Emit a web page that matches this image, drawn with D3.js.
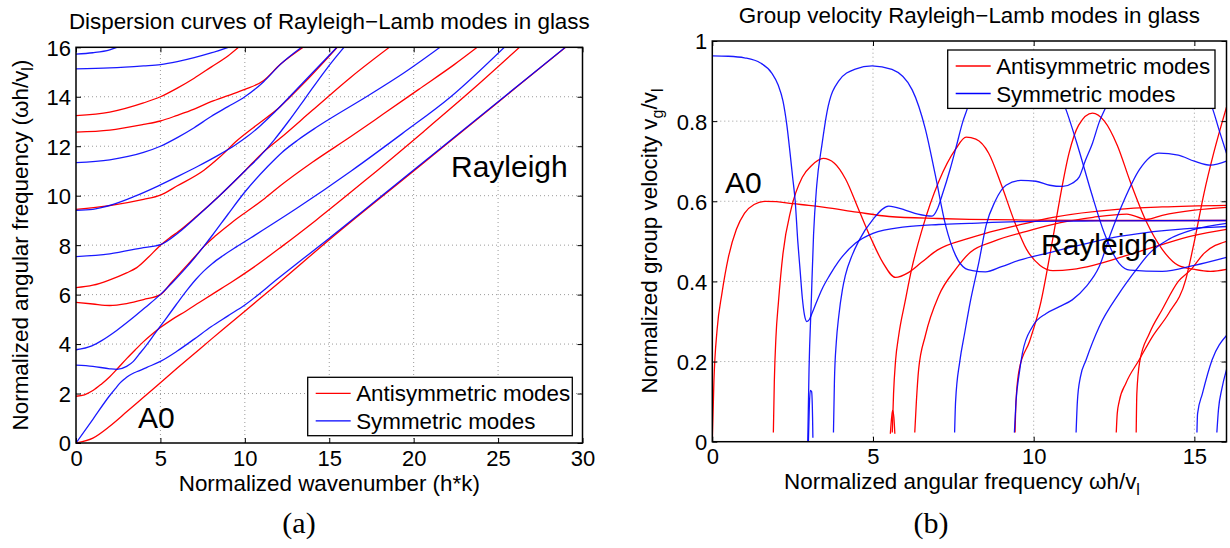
<!DOCTYPE html>
<html>
<head>
<meta charset="utf-8">
<script src="https://cdn.jsdelivr.net/npm/d3@7"></script>
<style>
  html, body { margin: 0; padding: 0; background: #fff; }
  svg { display: block; font-family: "Liberation Sans", Arial, Helvetica, sans-serif; }
  .tick text { font-size: 22px; fill: #000; }
</style>
</head>
<body>
<svg id="chart" width="1230" height="548"></svg>
<script>
// ---------- Panel (a): dispersion curves, wavenumber kh vs frequency wh/v_l ----------
const ticksA_x = [0, 5, 10, 15, 20, 25, 30];
const ticksA_y = [0, 2, 4, 6, 8, 10, 12, 14, 16];

// Antisymmetric modes [kh, wh/v_l]
const dispA0 = [[0,0],[1,0.2],[2,0.68],[3,1.26],[4,1.85],[5,2.44],[6,3.03],[7,3.61],[8,4.19],[9,4.76],[10,5.33],[12,6.47],[15,8.22],[20,11.0],[25,13.78],[29,16.0],[29.2,16.11]];
const dispA1 = [[0,1.89],[0.5,1.95],[1,2.12],[1.5,2.38],[2,2.68],[2.42,2.98],[3,3.41],[3.5,3.76],[4,4.1],[4.5,4.4],[5,4.67],[5.7,5.0],[6.5,5.33],[7.3,5.68],[8.2,6.07],[9.2,6.5],[10.3,7.0],[12.2,7.95],[14.2,9.0],[17.1,10.6],[20.6,12.6],[23.5,14.3],[26.3,16.02]];
const dispA2 = [[0,5.69],[1,5.62],[2,5.56],[3,5.64],[4,5.8],[5,6.0],[5.6,6.45],[6.3,6.98],[7.0,7.5],[7.58,7.95],[8.3,8.4],[9.2,8.9],[10.2,9.4],[11.2,9.9],[12.1,10.4],[14,11.35],[16.3,12.4],[18.2,13.3],[20.3,14.3],[22.4,15.3],[23.8,16.02]];
const dispA3 = [[0,6.28],[1,6.38],[2,6.6],[3,6.88],[3.6,7.09],[4.3,7.52],[5,8.0],[5.5,8.27],[6.1,8.57],[7.13,9.16],[8.5,10.0],[10,11.0],[11,11.7],[12.09,12.32],[14,13.45],[16.3,14.8],[18.6,16.02]];
const dispA4 = [[0,9.45],[2,9.6],[4,9.85],[5,10.02],[6,10.4],[7.58,11.03],[8.5,11.55],[9.56,12.24],[10.5,12.75],[12.09,13.6],[13.5,14.55],[15.5,16.02]];
const dispA5 = [[0,12.57],[2,12.65],[4,12.88],[5,13.02],[6,13.25],[7,13.5],[8,13.8],[9,14.05],[10,14.3],[11.1,14.65],[12.09,15.3],[13.5,16.02]];
const dispA6 = [[0,13.24],[2,13.38],[4,13.75],[5,14.0],[6,14.35],[7,14.75],[8,15.2],[9,15.65],[9.66,16.02]];

// Symmetric modes [kh, wh/v_l]
const dispS0 = [[0,0],[1,0.96],[2,1.92],[2.33,2.2],[2.6,2.42],[2.86,2.58],[3.15,2.73],[3.45,2.84],[3.73,2.92],[4.2,3.06],[5,3.3],[6,3.72],[7,4.2],[8,4.7],[9,5.14],[10,5.58],[12,6.67],[15,8.28],[20,11.04],[25,13.8],[29,16.01],[29.2,16.12]];
const dispS1 = [[0,3.15],[1,3.1],[2,3.0],[2.42,2.98],[3,3.1],[3.4,3.3],[3.72,3.57],[4.14,3.93],[4.7,4.45],[5.3,5.0],[5.94,5.6],[6.6,6.2],[7.12,6.63],[7.55,6.94],[8.08,7.26],[8.7,7.57],[9.5,7.93],[10.36,8.3],[13.1,9.5],[16.3,11],[19.3,12.5],[22.2,14],[25.4,16.02]];
const dispS2 = [[0,3.77],[0.94,3.93],[1.52,4.14],[2.41,4.55],[3.26,5.0],[4.12,5.49],[4.99,6.0],[5.7,6.48],[6.46,7.04],[7.0,7.47],[7.58,7.96],[8.1,8.42],[9,9.25],[10,10.15],[11.38,11.2],[12.2,11.75],[13.14,12.25],[14.1,12.7],[14.9,13.05],[17.2,14.0],[19.5,15.0],[21.6,16.02]];
const dispS3 = [[0,7.54],[2,7.65],[4,7.9],[5,8.02],[6.1,8.52],[7.13,9.14],[8.5,10.0],[10,11.0],[10.9,11.6],[11.73,12.25],[12.58,13.0],[13.64,14.0],[14.7,15.0],[15.33,15.55],[15.9,16.02]];
const dispS4 = [[0,9.41],[1,9.45],[2.2,9.65],[3.42,9.96],[4.85,10.39],[6.09,10.8],[7.25,11.2],[8.41,11.63],[9.41,12.04],[10.16,12.4],[10.87,12.8],[11.65,13.3],[12.51,13.9],[14.05,15],[15.48,16.02]];
const dispS5 = [[0,11.34],[2,11.45],[4,11.75],[5,12.0],[6,12.35],[7,12.75],[8,13.2],[9,13.6],[10,14.0],[11.1,14.6],[12.09,15.3],[13.4,16.02]];
const dispS6 = [[0,15.13],[2,15.17],[4,15.25],[5,15.3],[6,15.42],[7,15.58],[8,15.77],[9.1,16.02]];
const dispS7 = [[0,15.72],[1,15.78],[2,15.9],[2.5,16.02]];

// ---------- Panel (b): group velocity, wh/v_l vs v_g/v_l ----------
const ticksB_x = [0, 5, 10, 15];
const ticksB_y = [0, 0.2, 0.4, 0.6, 0.8, 1];
const ticksB_yText = ["0", "0.2", "0.4", "0.6", "0.8", "1"];

// Antisymmetric modes [wh/v_l, v_g/v_l]
const grpA0 = [[0,0],[0.05,0.15],[0.15,0.28],[0.3,0.37],[0.5,0.46],[0.75,0.53],[1.0,0.57],[1.3,0.592],[1.65,0.6],[2.0,0.599],[2.5,0.594],[3.0,0.59],[3.5,0.585],[4.5,0.573],[5.5,0.562],[7,0.557],[8,0.555],[10,0.553],[12,0.552],[16,0.552]];
const grpA1 = [[1.9,0.023],[1.93,0.15],[1.98,0.26],[2.06,0.35],[2.2,0.47],[2.45,0.58],[2.8,0.66],[3.1,0.69],[3.45,0.707],[3.8,0.695],[4.15,0.655],[4.55,0.58],[4.95,0.505],[5.3,0.448],[5.7,0.41],[6.1,0.422],[6.5,0.447],[7.0,0.478],[8.0,0.508],[8.5,0.52],[9.5,0.54],[10.6,0.56],[12.6,0.58],[14,0.586],[16,0.59]];
const grpA2spike = [[5.54,0.02],[5.58,0.06],[5.61,0.078],[5.65,0.06],[5.68,0.02]];
const grpA2 = [[5.6,0.023],[5.64,0.12],[5.7,0.2],[5.8,0.265],[6.0,0.35],[6.2,0.43],[6.53,0.53],[7.05,0.65],[7.57,0.73],[7.9,0.76],[8.2,0.755],[8.6,0.72],[9.0,0.64],[9.4,0.55],[9.78,0.48],[10.2,0.44],[10.6,0.427],[11.2,0.43],[11.85,0.44],[12.9,0.465],[13.9,0.49],[15,0.515],[16,0.53]];
const grpA3 = [[6.3,0.023],[6.35,0.1],[6.42,0.18],[6.63,0.265],[7.05,0.365],[7.57,0.43],[8.03,0.473],[8.75,0.5],[9.78,0.525],[10.8,0.546],[11.85,0.56],[12.9,0.568],[13.5,0.555],[14,0.565],[15,0.578],[16,0.585]];
const grpA4 = [[9.42,0.023],[9.45,0.1],[9.55,0.18],[9.87,0.25],[10.2,0.34],[10.58,0.5],[10.8,0.6],[11.1,0.72],[11.4,0.79],[11.83,0.82],[12.2,0.8],[12.6,0.74],[13,0.65],[13.5,0.55],[14,0.48],[14.5,0.44],[15,0.43],[15.5,0.425],[16,0.43]];
const grpA5 = [[12.57,0.023],[12.6,0.07],[12.66,0.1],[12.87,0.146],[13.28,0.204],[13.7,0.263],[14.2,0.32],[14.73,0.404],[15.0,0.5],[15.3,0.62],[15.6,0.72],[16,0.835]];
const grpA6 = [[13.19,0.023],[13.21,0.12],[13.3,0.2],[13.6,0.27],[14.0,0.33],[14.5,0.4],[14.9,0.43],[15.3,0.47],[16,0.5]];

// Symmetric modes [wh/v_l, v_g/v_l]
const grpS0 = [[0,0.963],[0.5,0.962],[1.0,0.958],[1.5,0.945],[1.85,0.92],[2.05,0.89],[2.2,0.85],[2.32,0.79],[2.42,0.72],[2.5,0.66],[2.58,0.6],[2.66,0.5],[2.73,0.43],[2.8,0.36],[2.87,0.315],[2.94,0.30],[3.02,0.305],[3.1,0.32],[3.25,0.35],[3.41,0.38],[3.65,0.415],[3.93,0.45],[4.45,0.495],[5.0,0.52],[6.0,0.536],[7.05,0.542],[8.0,0.545],[10,0.55],[12,0.551],[16,0.552]];
const grpS1spike = [[2.99,0],[3.02,0.09],[3.05,0.128],[3.09,0.125],[3.12,0.06],[3.13,0.01]];
const grpS1 = [[2.97,0],[3.01,0.18],[3.08,0.35],[3.15,0.515],[3.25,0.64],[3.41,0.74],[3.57,0.823],[3.93,0.9],[4.45,0.93],[4.97,0.938],[5.59,0.929],[6.22,0.878],[6.63,0.78],[6.94,0.665],[7.26,0.54],[7.57,0.465],[7.88,0.432],[8.1,0.427],[8.5,0.424],[9.0,0.437],[9.56,0.453],[10.5,0.472],[11.5,0.492],[12.5,0.51],[13.5,0.522],[14.5,0.53],[15.5,0.535],[16,0.537]];
const grpS2 = [[3.77,0.023],[3.8,0.15],[3.86,0.25],[3.93,0.31],[4.05,0.38],[4.14,0.415],[4.35,0.465],[4.55,0.5],[5.0,0.555],[5.49,0.588],[6.0,0.578],[6.4,0.568],[6.84,0.563],[7.0,0.58],[7.15,0.615],[7.4,0.68],[7.57,0.73],[7.8,0.8],[7.93,0.83],[8.1,0.875],[8.3,0.91],[8.6,0.94],[9.2,0.955],[10,0.955],[10.5,0.92],[10.8,0.87],[11.0,0.83],[11.4,0.73],[11.8,0.62],[12.2,0.52],[12.66,0.445],[13.0,0.428],[14,0.425],[15,0.44],[16,0.46]];
const grpS3 = [[7.54,0.023],[7.57,0.1],[7.7,0.2],[7.85,0.27],[8.03,0.35],[8.3,0.45],[8.52,0.54],[8.8,0.6],[9.14,0.64],[9.6,0.652],[10.07,0.65],[10.5,0.64],[10.9,0.637],[11.2,0.645],[11.42,0.661],[11.6,0.7],[11.83,0.745],[12.05,0.8],[12.25,0.836],[12.5,0.89],[13,0.93],[14,0.95],[15,0.915],[15.55,0.835],[15.8,0.77],[16,0.72]];
const grpS4 = [[9.4,0.023],[9.45,0.1],[9.55,0.17],[9.65,0.221],[9.96,0.287],[10.39,0.32],[10.8,0.337],[11.2,0.354],[11.63,0.387],[12.04,0.437],[12.4,0.52],[12.8,0.6],[13.3,0.68],[13.9,0.72],[14.5,0.715],[15.0,0.7],[15.5,0.69],[16,0.7]];
const grpS5 = [[11.32,0.023],[11.36,0.1],[11.45,0.16],[11.63,0.204],[12.04,0.287],[12.66,0.37],[13.18,0.428],[13.6,0.47],[14.2,0.505],[15,0.53],[16,0.545]];
const grpS6 = [[15.08,0.023],[15.1,0.07],[15.25,0.12],[15.55,0.204],[16,0.265]];
const grpS7 = [[15.7,0.023],[15.75,0.08],[15.85,0.13],[16,0.18]];

const legendLabels = ["Antisymmetric modes", "Symmetric modes"];
const RED = "#ff0000", BLUE = "#0000ff";

const svg = d3.select("#chart");

function drawPanel(cfg) {
  const { x, y, xTicks, yTicks, yFmt, antisym, sym, clipId, xPad } = cfg;
  const [x0, x1] = x.range();
  const [y0, y1] = y.range();
  const g = svg.append("g");

  g.append("clipPath").attr("id", clipId)
    .append("rect").attr("x", x0).attr("y", y1).attr("width", x1 - x0).attr("height", y0 - y1);

  // dotted grid
  const grid = g.append("g").attr("stroke", "#9a9a9a").attr("stroke-width", 1).attr("stroke-dasharray", "1,3");
  xTicks.slice(1, -1).forEach(t => grid.append("line")
    .attr("x1", x(t)).attr("x2", x(t)).attr("y1", y0).attr("y2", y1));
  yTicks.slice(1, -1).forEach(t => grid.append("line")
    .attr("x1", x0).attr("x2", x1).attr("y1", y(t)).attr("y2", y(t)));

  // curves
  const line = d3.line().x(d => x(d[0])).y(d => y(d[1])).curve(d3.curveMonotoneX);
  const cg = g.append("g").attr("clip-path", `url(#${clipId})`).attr("fill", "none").attr("stroke-width", 1.3);
  antisym.forEach(s => cg.append("path").attr("d", line(s)).attr("stroke", RED));
  sym.forEach(s => cg.append("path").attr("d", line(s)).attr("stroke", BLUE).attr("stroke-opacity", 0.9));

  // axes with inward ticks on all four sides
  const bottom = g.append("g").attr("transform", `translate(0,${y0})`)
    .call(d3.axisBottom(x).tickValues(xTicks).tickSizeInner(-5).tickSizeOuter(0).tickPadding(xPad).tickFormat(d3.format("d")));
  const top = g.append("g").attr("transform", `translate(0,${y1})`)
    .call(d3.axisTop(x).tickValues(xTicks).tickSizeInner(-5).tickSizeOuter(0).tickFormat(""));
  const left = g.append("g").attr("transform", `translate(${x0},0)`)
    .call(d3.axisLeft(y).tickValues(yTicks).tickSizeInner(-5).tickSizeOuter(0).tickPadding(5).tickFormat(yFmt));
  const right = g.append("g").attr("transform", `translate(${x1},0)`)
    .call(d3.axisRight(y).tickValues(yTicks).tickSizeInner(-5).tickSizeOuter(0).tickFormat(""));
  [bottom, top, left, right].forEach(a => {
    a.select(".domain").remove();
    a.selectAll(".tick line").attr("stroke", "#000").attr("stroke-width", 1);
    a.selectAll("text").attr("font-family", "Liberation Sans, Arial, sans-serif");
  });
  left.selectAll("text").attr("dy", "0.36em");

  g.append("rect").attr("x", x0).attr("y", y1).attr("width", x1 - x0).attr("height", y0 - y1)
    .attr("fill", "none").attr("stroke", "#000").attr("stroke-width", 1.5);
  return g;
}

function drawLegend(g, lx, ly, lw, lh) {
  g.append("rect").attr("x", lx).attr("y", ly).attr("width", lw).attr("height", lh)
    .attr("fill", "#fff").attr("stroke", "#000").attr("stroke-width", 1.3);
  [RED, BLUE].forEach((c, i) => {
    const yy = ly + 16 + i * 27.5;
    g.append("line").attr("x1", lx + 8).attr("x2", lx + 43).attr("y1", yy).attr("y2", yy)
      .attr("stroke", c).attr("stroke-width", 1.3);
    g.append("text").attr("x", lx + 48.5).attr("y", yy + 8).attr("font-size", 22.4)
      .attr("fill", "#000").text(legendLabels[i]);
  });
}

// ----- panel (a) -----
const xA = d3.scaleLinear().domain([0, 30]).range([76, 582.5]);
const yA = d3.scaleLinear().domain([0, 16]).range([443, 47.3]);
const gA = drawPanel({
  x: xA, y: yA, xTicks: ticksA_x, yTicks: ticksA_y, yFmt: d3.format("d"), clipId: "clipA", xPad: 7.5,
  antisym: [dispA0, dispA1, dispA2, dispA3, dispA4, dispA5, dispA6],
  sym: [dispS0, dispS1, dispS2, dispS3, dispS4, dispS5, dispS6, dispS7]
});
drawLegend(gA, 307.7, 377.3, 264.6, 58.4);
gA.append("text").attr("x", 329.3).attr("y", 29).attr("text-anchor", "middle").attr("font-size", 22.4)
  .text("Dispersion curves of Rayleigh\u2212Lamb modes in glass");
gA.append("text").attr("x", 329.3).attr("y", 491).attr("text-anchor", "middle").attr("font-size", 22.4)
  .text("Normalized wavenumber (h*k)");
const ylA = gA.append("text").attr("transform", "translate(28,245) rotate(-90)").attr("text-anchor", "middle").attr("font-size", 22.4);
ylA.append("tspan").text("Normalized angular frequency (\u03c9h/v");
ylA.append("tspan").attr("font-size", 16).attr("dy", 5).text("l");
ylA.append("tspan").attr("dy", -5).text(")");
gA.append("text").attr("x", 138).attr("y", 428).attr("font-size", 30).text("A0");
gA.append("text").attr("x", 451).attr("y", 177).attr("font-size", 30).text("Rayleigh");
gA.append("text").attr("x", 299).attr("y", 533).attr("text-anchor", "middle").attr("font-size", 30)
  .attr("font-family", "Liberation Serif, DejaVu Serif, serif").text("(a)");

// ----- panel (b) -----
const xB = d3.scaleLinear().domain([0, 16]).range([712.3, 1226.5]);
const yB = d3.scaleLinear().domain([0, 1]).range([441.7, 41]);
const gB = drawPanel({
  x: xB, y: yB, xTicks: ticksB_x.concat([16]), yTicks: ticksB_y,
  yFmt: (d, i) => ticksB_yText[i], clipId: "clipB", xPad: 6.5,
  antisym: [grpA0, grpA1, grpA2spike, grpA2, grpA3, grpA4, grpA5, grpA6],
  sym: [grpS0, grpS1spike, grpS1, grpS2, grpS3, grpS4, grpS5, grpS6, grpS7]
});
// the frame edge at 16 carries no tick
gB.selectAll(".tick").filter(d => d === 16).remove();
drawLegend(gB, 947.7, 50, 267.3, 58.4);
gB.append("text").attr("x", 969.4).attr("y", 23).attr("text-anchor", "middle").attr("font-size", 22.4)
  .text("Group velocity Rayleigh\u2212Lamb modes in glass");
const xlB = gB.append("text").attr("x", 962).attr("y", 489).attr("text-anchor", "middle").attr("font-size", 22.4);
xlB.append("tspan").text("Normalized angular frequency \u03c9h/v");
xlB.append("tspan").attr("font-size", 16).attr("dy", 6).text("l");
const ylB = gB.append("text").attr("transform", "translate(657,241) rotate(-90)").attr("text-anchor", "middle").attr("font-size", 22.4);
ylB.append("tspan").text("Normalized group velocity v");
ylB.append("tspan").attr("font-size", 16).attr("dy", 6).text("g");
ylB.append("tspan").attr("dy", -6).text("/v");
ylB.append("tspan").attr("font-size", 16).attr("dy", 6).text("l");
gB.append("text").attr("x", 725).attr("y", 193).attr("font-size", 30).text("A0");
gB.append("text").attr("x", 1041).attr("y", 255).attr("font-size", 30).text("Rayleigh");
gB.append("text").attr("x", 931).attr("y", 533).attr("text-anchor", "middle").attr("font-size", 30)
  .attr("font-family", "Liberation Serif, DejaVu Serif, serif").text("(b)");
</script>
</body>
</html>
